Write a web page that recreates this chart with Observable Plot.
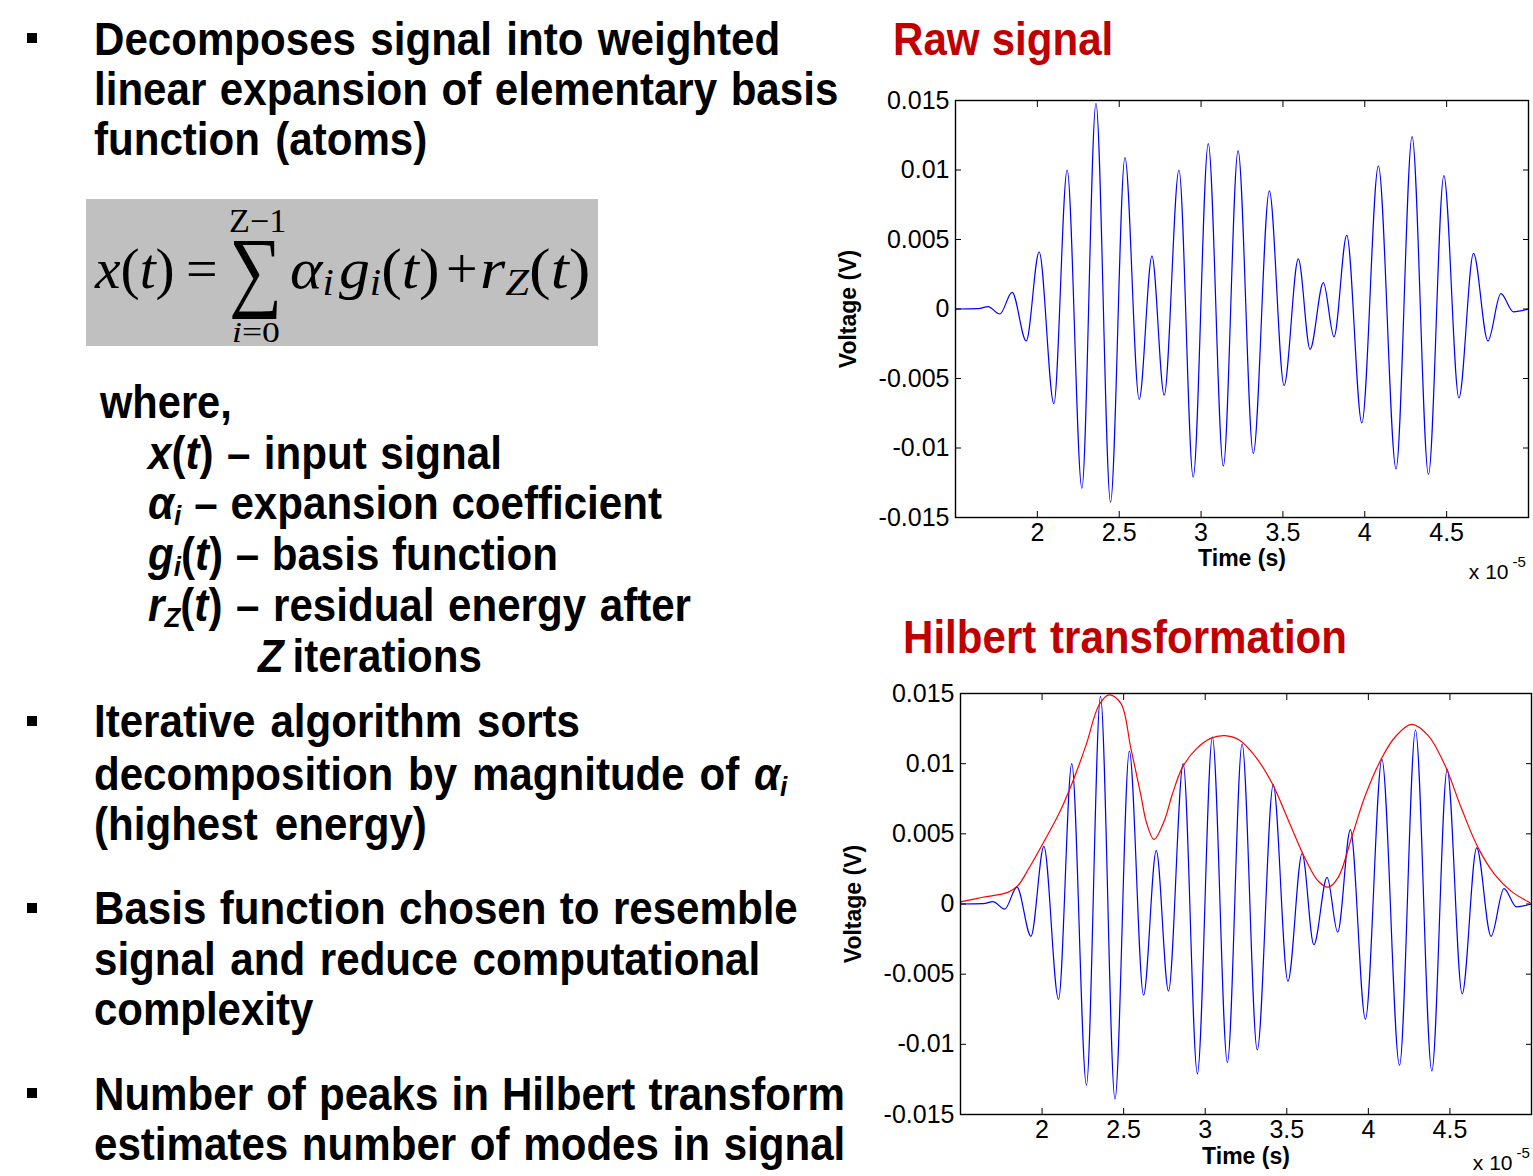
<!DOCTYPE html>
<html><head><meta charset="utf-8">
<script src="https://cdn.jsdelivr.net/npm/d3@7"></script>
<script src="https://cdn.jsdelivr.net/npm/@observablehq/plot@0.6"></script>
<style>
html,body{margin:0;padding:0;background:#fff;}
#page{position:relative;width:1533px;height:1176px;overflow:hidden;font-family:"Liberation Sans",Arial,sans-serif;background:#fff;}
.ln{position:absolute;white-space:nowrap;font-weight:bold;font-size:46px;line-height:46px;color:#000;transform-origin:0 0;}
.ln .sb{font-size:0.62em;position:relative;top:0.22em;}
.bul{position:absolute;width:10px;height:10px;background:#000;left:27px;}
.fx{position:absolute;white-space:nowrap;font-family:"Liberation Serif","Times New Roman",serif;line-height:1;color:#000;transform-origin:0 0;}
.fx .fs{font-size:0.66em;font-style:italic;position:relative;top:0.2em;}
.chart{position:absolute;}
.chart svg{overflow:visible;}
</style></head>
<body><div id="page"></div>
<script>
// ---------- data ----------
const timeTicks = [2, 2.5, 3, 3.5, 4, 4.5];
const voltTicks = [-0.015, -0.01, -0.005, 0, 0.005, 0.01, 0.015];
// raw signal (extrema), time in units of 1e-5 s
const sigT = [1.50, 1.64, 1.699, 1.771, 1.846, 1.932, 2.011, 2.101, 2.182, 2.272,
  2.358, 2.447, 2.535, 2.622, 2.700, 2.775, 2.865, 2.952, 3.044, 3.136,
  3.226, 3.319, 3.417, 3.507, 3.594, 3.666, 3.747, 3.812, 3.890, 3.982,
  4.083, 4.191, 4.289, 4.389, 4.483, 4.575, 4.664, 4.752, 4.831, 4.908, 5.0];
const sigV = [0, 0.00002, 0.00017, -0.00036, 0.0012, -0.0023, 0.0041, -0.0068, 0.0100, -0.0129,
  0.0148, -0.0139, 0.0109, -0.0065, 0.0038, -0.0062, 0.0100, -0.0121, 0.0119, -0.0113,
  0.0114, -0.0104, 0.0085, -0.0055, 0.0036, -0.0029, 0.0019, -0.0020, 0.0053, -0.0082,
  0.0103, -0.0115, 0.0124, -0.0119, 0.0096, -0.0064, 0.0040, -0.0023, 0.0011, -0.0002, 0.0000];
// Hilbert envelope
const envT = [1.50, 1.637, 1.790, 1.851, 1.922, 2.014, 2.106, 2.187, 2.269, 2.350,
  2.411, 2.483, 2.544, 2.605, 2.640, 2.686, 2.748, 2.798, 2.859, 2.941,
  3.033, 3.120, 3.206, 3.308, 3.410, 3.512, 3.614, 3.695, 3.754, 3.815,
  3.899, 3.980, 4.082, 4.164, 4.265, 4.367, 4.469, 4.571, 4.673, 4.775, 4.877, 4.99];
const envV = [0.00015, 0.00048, 0.00083, 0.0013, 0.0026, 0.0045, 0.0065, 0.0087, 0.0113, 0.0142,
  0.0149, 0.0143, 0.0111, 0.0078, 0.0058, 0.0046, 0.0059, 0.0078, 0.0097, 0.0110,
  0.0118, 0.0120, 0.0117, 0.0105, 0.0086, 0.0059, 0.0032, 0.0016, 0.0012, 0.0019,
  0.0048, 0.0077, 0.0104, 0.0119, 0.0128, 0.0120, 0.0099, 0.0068, 0.0040, 0.0021, 0.0009, 0.0001];

// ---------- text content ----------
const textLines = [
  {h: "Decomposes signal into weighted", x: 94, b: 55, w: 686},
  {h: "linear expansion of elementary basis", x: 94, b: 105, w: 744},
  {h: "function (atoms)", x: 94, b: 155, w: 333},
  {h: "where,", x: 100, b: 418, w: 132},
  {h: "<i>x</i>(<i>t</i>) – input signal", x: 148, b: 469, w: 354},
  {h: "<i>α<span class='sb'>i</span></i> – expansion coefficient", x: 148, b: 519, w: 514},
  {h: "<i>g<span class='sb'>i</span></i>(<i>t</i>) – basis function", x: 148, b: 570, w: 410},
  {h: "<i>r<span class='sb'>Z</span></i>(<i>t</i>) – residual energy after", x: 148, b: 621, w: 543},
  {h: "<i>Z</i> iterations", x: 258, b: 672, w: 224},
  {h: "Iterative algorithm sorts", x: 94, b: 737, w: 486},
  {h: "decomposition by magnitude of <i>α<span class='sb'>i</span></i>", x: 94, b: 790, w: 693},
  {h: "(highest energy)", x: 94, b: 840, w: 333},
  {h: "Basis function chosen to resemble", x: 94, b: 924, w: 704},
  {h: "signal and reduce computational", x: 94, b: 975, w: 666},
  {h: "complexity", x: 94, b: 1025, w: 219},
  {h: "Number of peaks in Hilbert transform", x: 94, b: 1110, w: 751},
  {h: "estimates number of modes in signal", x: 94, b: 1160, w: 751},
  {h: "Raw signal", x: 893, b: 55, w: 220, c: "#c00000"},
  {h: "Hilbert transformation", x: 903, b: 653, w: 444, c: "#c00000"}
];
const bulletTops = [33, 716, 903, 1088];

const page = document.getElementById("page");
const SCALE = 0.915;
for (const L of textLines) {
  const d = document.createElement("div");
  d.className = "ln";
  d.innerHTML = L.h;
  d.style.left = L.x + "px";
  d.style.top = (L.b - 0.8465 * 46) + "px";
  if (L.c) d.style.color = L.c;
  page.appendChild(d);
  const nat = d.offsetWidth;
  const spaces = (d.textContent.match(/ /g) || []).length;
  let s = SCALE;
  if (spaces > 0) {
    const ws = (L.w / s - nat) / spaces;
    d.style.wordSpacing = ws + "px";
  } else {
    s = L.w / nat;
  }
  d.style.transform = `scaleX(${s})`;
}
for (const t of bulletTops) {
  const b = document.createElement("div");
  b.className = "bul";
  b.style.top = t + "px";
  page.appendChild(b);
}

// ---------- formula ----------
const box = document.createElement("div");
Object.assign(box.style, {position: "absolute", left: "86px", top: "199px", width: "512px", height: "147px", background: "#c0c0c0"});
page.appendChild(box);
function fx(html, x, base, size, w) {
  const d = document.createElement("div");
  d.className = "fx";
  d.innerHTML = html;
  d.style.fontSize = size + "px";
  d.style.left = x + "px";
  d.style.top = (base - 0.8375 * size) + "px";
  page.appendChild(d);
  if (w) d.style.transform = `scaleX(${w / d.offsetWidth})`;
  return d;
}
fx("<i>x</i>(<i>t</i>)", 95, 288, 56, 80);
fx("=", 186, 288, 56);
fx("∑", 229, 300, 90, 53);
fx("Z−1", 229, 233, 33, 57);
fx("<i>i</i>=0", 232, 342, 29, 48);
fx("<i>α</i><span class='fs'>i</span>&#8202;<i>g</i><span class='fs'>i</span>(<i>t</i>)", 290, 288, 56, 150);
fx("+", 446, 288, 56);
fx("<i>r</i><span class='fs'>Z</span>(<i>t</i>)", 480, 288, 56, 110);

// ---------- charts ----------
const sig = sigT.map((t, i) => ({t, v: sigV[i]}));
const env = envT.map((t, i) => ({t, v: envV[i]}));

function chart({left, top, width, height, mt, mr, mb, ml, withEnv, xlabDy, expDx, expDy}) {
  const marks = [
    Plot.line(sig, {x: "t", y: "v", stroke: "#0000ff", strokeWidth: 1.2, curve: "monotone-x"})
  ];
  if (withEnv) marks.push(Plot.line(env, {x: "t", y: "v", stroke: "#ff0000", strokeWidth: 1.2, curve: "catmull-rom"}));
  marks.push(
    Plot.frame({stroke: "#000", strokeWidth: 1.4}),
    Plot.axisX(timeTicks, {anchor: "bottom", tickSize: -6, fill: "none", label: null}),
    Plot.axisX(timeTicks, {anchor: "top", tickSize: -6, fill: "none", label: null}),
    Plot.axisY(voltTicks, {anchor: "left", tickSize: -6, fill: "none", label: null}),
    Plot.axisY(voltTicks, {anchor: "right", tickSize: -6, fill: "none", label: null}),
    Plot.axisX(timeTicks, {anchor: "bottom", tickSize: 0, tickPadding: 6, fontSize: 25, tickFormat: d => String(d), label: null}),
    Plot.axisY(voltTicks, {anchor: "left", tickSize: 0, tickPadding: 6, fontSize: 25, tickFormat: d => String(d), label: null}),
    Plot.text(["Time (s)"], {text: d => d, frameAnchor: "bottom", lineAnchor: "middle", textAnchor: "middle", dy: xlabDy, fontSize: 23, fontWeight: "bold"}),
    Plot.text(["Voltage (V)"], {text: d => d, frameAnchor: "left", lineAnchor: "middle", textAnchor: "middle", dx: -107, rotate: -90, fontSize: 23, fontWeight: "bold"}),
    Plot.text(["x 10"], {text: d => d, frameAnchor: "bottom-right", lineAnchor: "middle", dx: expDx, dy: expDy, textAnchor: "end", fontSize: 21}),
    Plot.text(["-5"], {text: d => d, frameAnchor: "bottom-right", lineAnchor: "middle", dx: expDx + 4, dy: expDy - 10, textAnchor: "start", fontSize: 15})
  );
  const svg = Plot.plot({
    width, height,
    marginTop: mt, marginRight: mr, marginBottom: mb, marginLeft: ml,
    x: {domain: [1.5, 5], axis: null},
    y: {domain: [-0.015, 0.015], axis: null},
    style: {fontFamily: "'Liberation Sans', Arial, sans-serif", background: "transparent", color: "#000"},
    marks
  });
  const wrap = document.createElement("div");
  wrap.className = "chart";
  wrap.style.left = left + "px";
  wrap.style.top = top + "px";
  wrap.appendChild(svg);
  page.appendChild(wrap);
}

chart({left: 830, top: 80, width: 703, height: 520, mt: 20, mr: 5, mb: 83, ml: 125, withEnv: false, xlabDy: 41, expDx: -20, expDy: 55});
chart({left: 830, top: 670, width: 703, height: 506, mt: 23, mr: 2, mb: 62, ml: 130, withEnv: true, xlabDy: 42, expDx: -19, expDy: 49});
</script>
</body></html>
